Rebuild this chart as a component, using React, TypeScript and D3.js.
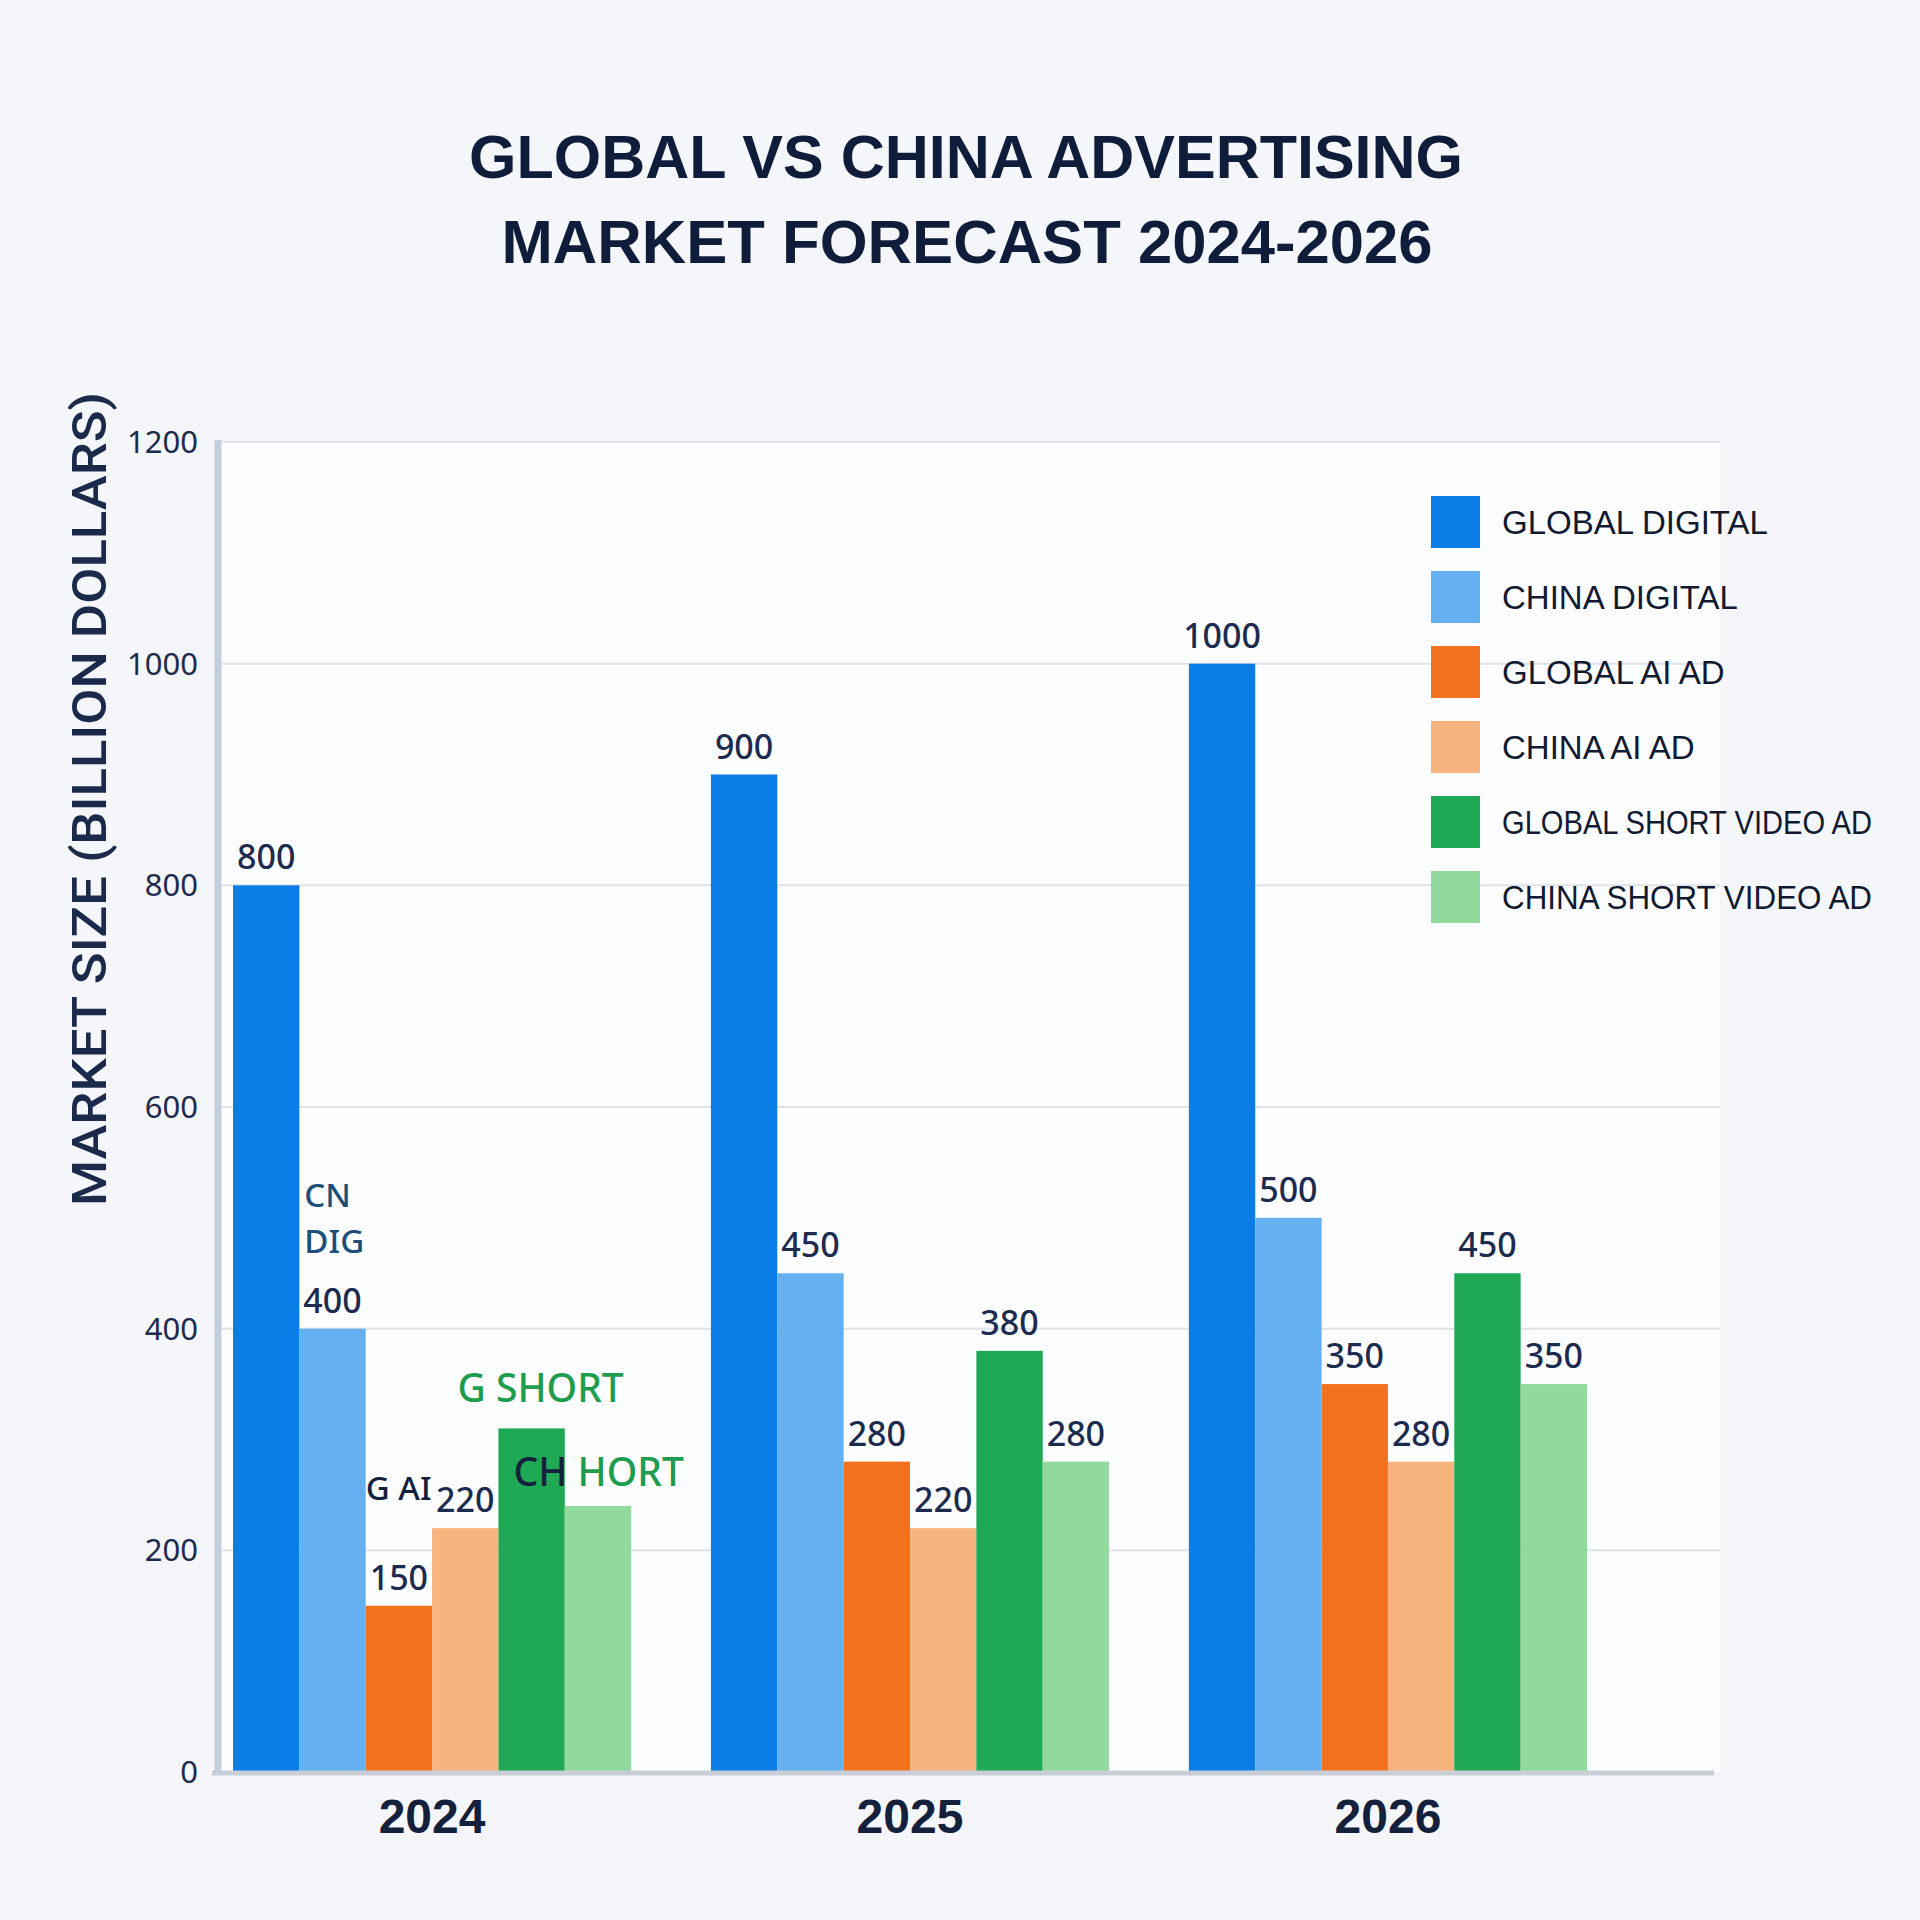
import React, { useEffect, useRef } from 'react';
import * as d3 from 'd3';

const years = ['2024', '2025', '2026'];
const seriesNames = [
  'GLOBAL DIGITAL',
  'CHINA DIGITAL',
  'GLOBAL AI AD',
  'CHINA AI AD',
  'GLOBAL SHORT VIDEO AD',
  'CHINA SHORT VIDEO AD',
];
const seriesColors = ['#0b7de6', '#65b0f1', '#f2711e', '#f8b47f', '#20a955', '#91d99c'];

// billion dollars, one entry per year
const globalDigital = [800, 900, 1000];
const chinaDigital = [400, 450, 500];
const globalAiAd = [150, 280, 350];
const chinaAiAd = [220, 220, 280];
const globalShortVideo = [310, 380, 450];
const chinaShortVideo = [240, 280, 350];

const yTicks = [0, 200, 400, 600, 800, 1000, 1200];

// the 2024 short video bars carry short tags instead of numbers
const hiddenValueLabels = ['2024-4', '2024-5'];

const width = 1920;
const height = 1920;
const axisX = 218;
const barsLeft = 233;
const barsRight = 1587;
const gridRight = 1720;
const yBottom = 1772;
const yTop = 442;

const navy = '#14213d';
const labelColor = '#1d2b4f';
const tagGreen = '#1f9d4f';

const App: React.FC = () => {
  const svgRef = useRef<SVGSVGElement>(null);

  useEffect(() => {
    if (!svgRef.current) return;
    const svg = d3.select(svgRef.current);
    svg.selectAll('*').remove();

    const series = [globalDigital, chinaDigital, globalAiAd, chinaAiAd, globalShortVideo, chinaShortVideo];
    const rows = years.map((year, yi) => ({
      year,
      bars: series.map((s, si) => ({ year, si, value: s[yi] })),
    }));

    const x0 = d3.scaleBand().domain(years).range([barsLeft, barsRight]).paddingInner(0.167);
    const x1 = d3.scaleBand().domain(d3.range(seriesNames.length).map(String)).range([0, x0.bandwidth()]);
    const y = d3.scaleLinear().domain([0, 1200]).range([yBottom, yTop]);
    const color = d3.scaleOrdinal<string>().domain(d3.range(seriesNames.length).map(String)).range(seriesColors);

    // background
    svg.append('rect').attr('width', width).attr('height', height).attr('fill', '#f4f6f9');
    svg.append('rect')
      .attr('x', axisX).attr('y', yTop)
      .attr('width', gridRight - axisX).attr('height', yBottom - yTop)
      .attr('fill', '#fcfdfe');

    // title
    const title = svg.append('g')
      .attr('font-family', '"Liberation Sans", Arial, sans-serif')
      .attr('font-weight', 700)
      .attr('fill', '#0f1d3a')
      .attr('text-anchor', 'middle');
    title.append('text').attr('x', 966).attr('y', 178).attr('font-size', 62)
      .attr('textLength', 994).attr('lengthAdjust', 'spacingAndGlyphs')
      .text('GLOBAL VS CHINA ADVERTISING');
    title.append('text').attr('x', 967).attr('y', 263).attr('font-size', 62)
      .attr('textLength', 931).attr('lengthAdjust', 'spacingAndGlyphs')
      .text('MARKET FORECAST 2024-2026');

    // gridlines
    svg.append('g')
      .selectAll('line')
      .data(yTicks.filter(t => t > 0))
      .join('line')
      .attr('x1', axisX).attr('x2', gridRight)
      .attr('y1', d => y(d)).attr('y2', d => y(d))
      .attr('stroke', '#dfe3e9')
      .attr('stroke-width', 2);

    // y tick labels
    svg.append('g')
      .attr('font-family', '"Noto Sans", sans-serif')
      .attr('font-size', 31)
      .attr('fill', labelColor)
      .attr('text-anchor', 'end')
      .selectAll('text')
      .data(yTicks)
      .join('text')
      .attr('x', 198)
      .attr('y', d => y(d))
      .attr('dy', '0.35em')
      .text(d => String(d));

    // y axis title
    svg.append('text')
      .attr('transform', 'translate(106,799) rotate(-90)')
      .attr('text-anchor', 'middle')
      .attr('font-family', 'Roboto, "Liberation Sans", sans-serif')
      .attr('font-weight', 500)
      .attr('font-size', 48)
      .attr('fill', '#1b2a4a')
      .attr('textLength', 814)
      .attr('lengthAdjust', 'spacingAndGlyphs')
      .text('MARKET SIZE (BILLION DOLLARS)');

    // bars
    const groups = svg.append('g')
      .selectAll('g')
      .data(rows)
      .join('g')
      .attr('transform', d => `translate(${x0(d.year)},0)`);

    groups.selectAll('rect')
      .data(d => d.bars)
      .join('rect')
      .attr('x', d => x1(String(d.si))!)
      .attr('y', d => y(d.value))
      .attr('width', x1.bandwidth())
      .attr('height', d => y(0) - y(d.value))
      .attr('fill', d => color(String(d.si)));

    groups.selectAll('text.value')
      .data(d => d.bars.filter(b => !hiddenValueLabels.includes(`${b.year}-${b.si}`)))
      .join('text')
      .attr('class', 'value')
      .attr('x', d => x1(String(d.si))! + x1.bandwidth() / 2)
      .attr('y', d => y(d.value) - 16)
      .attr('text-anchor', 'middle')
      .attr('font-family', '"Noto Sans", sans-serif')
      .attr('font-weight', 500)
      .attr('font-size', 34)
      .attr('fill', labelColor)
      .text(d => String(d.value));

    // short tags on the 2024 group
    const g24 = x0('2024')!;
    const tags = svg.append('g')
      .attr('font-family', '"Noto Sans", sans-serif')
      .attr('font-weight', 500)
      .attr('font-size', 36);
    const cnX = g24 + x1('1')! + 5;
    tags.append('text')
      .attr('x', cnX)
      .attr('y', y(chinaDigital[0]) - 122)
      .attr('font-size', 33)
      .attr('fill', '#1d4f7a')
      .text('CN');
    tags.append('text')
      .attr('x', cnX)
      .attr('y', y(chinaDigital[0]) - 76)
      .attr('font-size', 33)
      .attr('fill', '#1d4f7a')
      .text('DIG');
    tags.append('text')
      .attr('x', g24 + x1('2')!)
      .attr('y', y(globalAiAd[0]) - 106)
      .attr('font-size', 33)
      .attr('fill', navy)
      .text('G AI');
    tags.append('text')
      .attr('x', g24 + x1('4')! + x1.bandwidth() / 2 + 9)
      .attr('y', y(globalShortVideo[0]) - 26)
      .attr('text-anchor', 'middle')
      .attr('font-size', 39)
      .attr('fill', tagGreen)
      .text('G SHORT');
    const chShort = tags.append('text')
      .attr('x', g24 + x1('4')! + 15)
      .attr('y', y(chinaShortVideo[0]) - 20)
      .attr('font-size', 39);
    chShort.append('tspan').attr('fill', navy).text('CH ');
    chShort.append('tspan').attr('fill', tagGreen).text('HORT');

    // axes lines
    svg.append('line')
      .attr('x1', 212).attr('x2', 1714)
      .attr('y1', yBottom + 1).attr('y2', yBottom + 1)
      .attr('stroke', '#c9ced6').attr('stroke-width', 5);
    svg.append('line')
      .attr('x1', axisX).attr('x2', axisX)
      .attr('y1', yTop - 2).attr('y2', yBottom + 3)
      .attr('stroke', '#c3cedc').attr('stroke-width', 7);

    // year labels
    svg.append('g')
      .attr('font-family', '"Liberation Sans", Arial, sans-serif')
      .attr('font-weight', 700)
      .attr('font-size', 48)
      .attr('fill', navy)
      .attr('text-anchor', 'middle')
      .selectAll('text')
      .data(years)
      .join('text')
      .attr('x', d => x0(d)! + x0.bandwidth() / 2)
      .attr('y', 1833)
      .text(d => d);

    // legend
    const legend = svg.append('g')
      .selectAll('g')
      .data(seriesNames)
      .join('g')
      .attr('transform', (d, i) => `translate(1431,${522 + i * 75})`);
    legend.append('rect')
      .attr('y', -26)
      .attr('width', 49)
      .attr('height', 52)
      .attr('fill', (d, i) => seriesColors[i]);
    legend.append('text')
      .attr('x', 71)
      .attr('y', 12)
      .attr('font-family', '"Liberation Sans", Arial, sans-serif')
      .attr('font-size', 33)
      .attr('fill', '#111a30')
      .text(d => d)
      .each(function () {
        const t = this as SVGTextElement;
        if (t.getComputedTextLength() > 370) {
          t.setAttribute('textLength', '370');
          t.setAttribute('lengthAdjust', 'spacingAndGlyphs');
        }
      });
  }, []);

  return (
    <svg
      ref={svgRef}
      width={width}
      height={height}
      viewBox={`0 0 ${width} ${height}`}
      style={{ position: 'absolute', left: 0, top: 0, display: 'block' }}
    />
  );
};

export default App;
